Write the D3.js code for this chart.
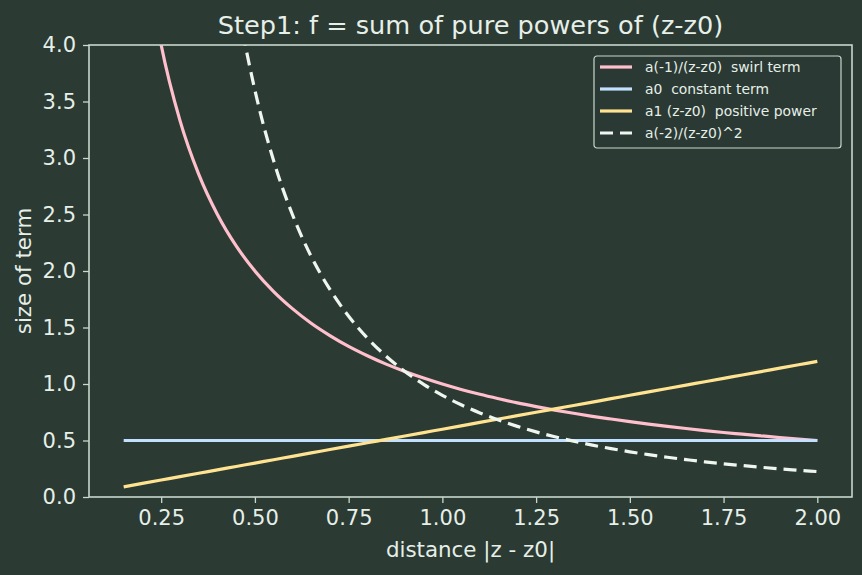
<!DOCTYPE html>
<html>
<head>
<meta charset="utf-8">
<script src="https://cdn.jsdelivr.net/npm/d3@7"></script>
<style>
  html, body { margin: 0; padding: 0; background: #2b3a33; }
  svg { display: block; font-family: "DejaVu Sans", sans-serif; }
  text { white-space: pre; }
</style>
</head>
<body>
<svg id="chart"></svg>
<script>
// distance |z - z0|
const distances = [0.15, 0.2, 0.25, 0.3, 0.35, 0.4, 0.45, 0.5, 0.55, 0.6, 0.65, 0.7, 0.75,
  0.8, 0.85, 0.9, 0.95, 1.0, 1.05, 1.1, 1.15, 1.2, 1.25, 1.3, 1.35, 1.4, 1.45, 1.5,
  1.55, 1.6, 1.65, 1.7, 1.75, 1.8, 1.85, 1.9, 1.95, 2.0];

// a(-1)/(z-z0)
const swirlTerm = [6.667, 5.0, 4.0, 3.333, 2.857, 2.5, 2.222, 2.0, 1.818, 1.667, 1.538, 1.429, 1.333,
  1.25, 1.176, 1.111, 1.053, 1.0, 0.952, 0.909, 0.870, 0.833, 0.8, 0.769, 0.741, 0.714, 0.690, 0.667,
  0.645, 0.625, 0.606, 0.588, 0.571, 0.556, 0.541, 0.526, 0.513, 0.5];

// a0
const constantTerm = [0.5, 0.5, 0.5, 0.5, 0.5, 0.5, 0.5, 0.5, 0.5, 0.5, 0.5, 0.5, 0.5,
  0.5, 0.5, 0.5, 0.5, 0.5, 0.5, 0.5, 0.5, 0.5, 0.5, 0.5, 0.5, 0.5, 0.5, 0.5,
  0.5, 0.5, 0.5, 0.5, 0.5, 0.5, 0.5, 0.5, 0.5, 0.5];

// a1 (z-z0)
const positivePower = [0.09, 0.12, 0.15, 0.18, 0.21, 0.24, 0.27, 0.3, 0.33, 0.36, 0.39, 0.42, 0.45,
  0.48, 0.51, 0.54, 0.57, 0.6, 0.63, 0.66, 0.69, 0.72, 0.75, 0.78, 0.81, 0.84, 0.87, 0.9,
  0.93, 0.96, 0.99, 1.02, 1.05, 1.08, 1.11, 1.14, 1.17, 1.2];

// a(-2)/(z-z0)^2
const squareTerm = [40, 22.5, 14.4, 10.0, 7.347, 5.625, 4.444, 3.6, 2.975, 2.5, 2.130, 1.837, 1.6,
  1.406, 1.246, 1.111, 0.997, 0.9, 0.816, 0.744, 0.681, 0.625, 0.576, 0.533, 0.494, 0.459, 0.428, 0.4,
  0.375, 0.352, 0.331, 0.311, 0.294, 0.278, 0.263, 0.249, 0.237, 0.225];

const xTicks = [0.25, 0.5, 0.75, 1.0, 1.25, 1.5, 1.75, 2.0];
const yTicks = [0, 0.5, 1.0, 1.5, 2.0, 2.5, 3.0, 3.5, 4.0];

const seriesNames = ["a(-1)/(z-z0)  swirl term", "a0  constant term",
  "a1 (z-z0)  positive power", "a(-2)/(z-z0)^2"];

const width = 862, height = 575;
const margin = { top: 45, right: 10, bottom: 78, left: 89 };
const innerWidth  = width  - margin.left - margin.right;
const innerHeight = height - margin.top  - margin.bottom;

const bg = "#2b3a33";
const fg = "#e6efe8";
const spine = "#c9d8cd";

const series = [
  { name: seriesNames[0], values: swirlTerm,     color: "#ffbfcc", dash: null },
  { name: seriesNames[1], values: constantTerm,  color: "#c2e0ff", dash: null },
  { name: seriesNames[2], values: positivePower, color: "#ffe391", dash: null },
  { name: seriesNames[3], values: squareTerm,    color: "#eef6ef", dash: "13,7" }
];

const svg = d3.select("#chart")
  .attr("width", width)
  .attr("height", height)
  .attr("viewBox", `0 0 ${width} ${height}`);

svg.append("rect")
  .attr("width", width).attr("height", height)
  .attr("fill", bg);

// Titel
svg.append("text")
  .attr("x", margin.left + innerWidth / 2)
  .attr("y", 34)
  .attr("text-anchor", "middle")
  .attr("font-size", "25.6px")
  .attr("fill", fg)
  .text("Step1: f = sum of pure powers of (z-z0)");

const g = svg.append("g")
  .attr("transform", `translate(${margin.left},${margin.top})`);

const x = d3.scaleLinear()
  .domain([0.0575, 2.0925])
  .range([0, innerWidth]);

const y = d3.scaleLinear()
  .domain([0, 4])
  .range([innerHeight, 0]);

g.append("clipPath").attr("id", "clip")
  .append("rect")
  .attr("width", innerWidth).attr("height", innerHeight);

const line = d3.line()
  .x((d, i) => x(distances[i]))
  .y(d => y(d))
  .curve(d3.curveMonotoneX);

const lines = g.append("g").attr("clip-path", "url(#clip)");
series.forEach(s => {
  lines.append("path")
    .datum(s.values)
    .attr("fill", "none")
    .attr("stroke", s.color)
    .attr("stroke-width", 3.2)
    .attr("stroke-dasharray", s.dash)
    .attr("d", line);
});

// Achsen
const xAxis = g.append("g")
  .attr("transform", `translate(0,${innerHeight})`)
  .call(d3.axisBottom(x).tickValues(xTicks).tickFormat(d3.format(".2f"))
    .tickSize(6).tickPadding(7));

const yAxis = g.append("g")
  .call(d3.axisLeft(y).tickValues(yTicks).tickFormat(d3.format(".1f"))
    .tickSize(6).tickPadding(7));

[xAxis, yAxis].forEach(a => {
  a.select(".domain").remove();
  a.selectAll(".tick line").attr("stroke", spine).attr("stroke-width", 1.3);
  a.selectAll(".tick text")
    .attr("fill", fg)
    .attr("font-size", "21px")
    .attr("font-family", "DejaVu Sans, sans-serif");
});

// Rahmen
g.append("rect")
  .attr("width", innerWidth).attr("height", innerHeight)
  .attr("fill", "none")
  .attr("stroke", spine)
  .attr("stroke-width", 1.6);

// Achsenbeschriftungen
svg.append("text")
  .attr("x", margin.left + innerWidth / 2)
  .attr("y", 557)
  .attr("text-anchor", "middle")
  .attr("font-size", "21.4px")
  .attr("fill", fg)
  .text("distance |z - z0|");

svg.append("text")
  .attr("transform", "rotate(-90)")
  .attr("x", -(margin.top + innerHeight / 2))
  .attr("y", 31)
  .attr("text-anchor", "middle")
  .attr("font-size", "21.4px")
  .attr("fill", fg)
  .text("size of term");

// Legende
const legend = svg.append("g")
  .attr("transform", "translate(594,56)");
legend.append("rect")
  .attr("width", 247).attr("height", 92)
  .attr("rx", 3)
  .attr("fill", bg)
  .attr("fill-opacity", 0.8)
  .attr("stroke", spine)
  .attr("stroke-width", 1.2);

series.forEach((s, i) => {
  const row = legend.append("g")
    .attr("transform", `translate(0,${11 + i * 22})`);
  row.append("line")
    .attr("x1", 6).attr("x2", 38)
    .attr("stroke", s.color)
    .attr("stroke-width", 3.2)
    .attr("stroke-dasharray", s.dash);
  row.append("text")
    .attr("x", 51).attr("y", 5)
    .attr("font-size", "13.9px")
    .attr("fill", fg)
    .text(s.name);
});
</script>
</body>
</html>
